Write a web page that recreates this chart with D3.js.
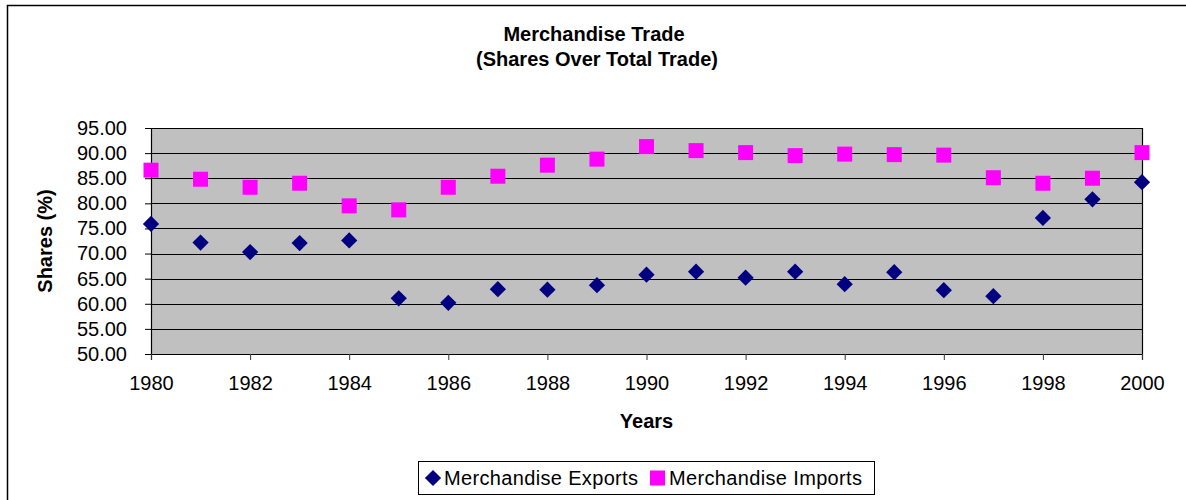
<!DOCTYPE html>
<html>
<head>
<meta charset="utf-8">
<script src="https://cdn.jsdelivr.net/npm/d3@7"></script>
<style>
  html, body { margin: 0; padding: 0; background: #fff; }
  svg { display: block; font-family: Arial, "Liberation Sans", sans-serif; }
</style>
</head>
<body>
<svg id="chart" width="1186" height="500"></svg>
<script>
const years = [1980,1981,1982,1983,1984,1985,1986,1987,1988,1989,1990,1991,1992,1993,1994,1995,1996,1997,1998,1999,2000];
const exportsShare = [75.9,72.2,70.3,72.1,72.6,61.1,60.2,62.9,62.8,63.7,65.8,66.4,65.2,66.4,63.9,66.3,62.7,61.5,77.1,80.8,84.2];
const importsShare = [86.6,84.8,83.2,84.0,79.5,78.7,83.2,85.4,87.6,88.8,91.3,90.5,90.1,89.5,89.8,89.7,89.6,85.1,84.0,85.0,90.1];
const yTicks = [50,55,60,65,70,75,80,85,90,95];
const xTicks = [1980,1982,1984,1986,1988,1990,1992,1994,1996,1998,2000];
const titleLines = ["Merchandise Trade", "(Shares Over Total Trade)"];
const seriesNames = ["Merchandise Exports", "Merchandise Imports"];

const svg = d3.select("#chart");
const pLeft = 151, pRight = 1142, pTop = 128, pBottom = 354;

// outer chart frame
svg.append("rect").attr("x", 7.5).attr("y", 5.5).attr("width", 1200).attr("height", 520)
  .attr("fill", "#fff").attr("stroke", "#000").attr("stroke-width", 1.5);

const x = d3.scaleLinear().domain([1980, 2000]).range([pLeft, pRight]);
const y = d3.scaleLinear().domain([50, 95]).range([pBottom, pTop]);

// plot background
svg.append("rect").attr("x", pLeft).attr("y", pTop).attr("width", pRight - pLeft).attr("height", pBottom - pTop)
  .attr("fill", "#c0c0c0");

// gridlines
svg.append("g").selectAll("line").data(yTicks.filter(d => d !== 50)).join("line")
  .attr("x1", pLeft).attr("x2", pRight)
  .attr("y1", d => Math.round(y(d)) + 0.5).attr("y2", d => Math.round(y(d)) + 0.5)
  .attr("stroke", "#000").attr("stroke-width", 1);

// plot border (right)
svg.append("line").attr("x1", pRight + 0.5).attr("x2", pRight + 0.5).attr("y1", pTop).attr("y2", pBottom)
  .attr("stroke", "#000").attr("stroke-width", 1.2);

// y axis
const yAxis = d3.axisLeft(y).tickValues(yTicks).tickFormat(d3.format(".2f")).tickSize(6).tickPadding(18);
const gy = svg.append("g").attr("transform", `translate(${pLeft},0)`).call(yAxis);
gy.select(".domain").attr("stroke", "#000").attr("stroke-width", 1.2);
gy.selectAll(".tick line").attr("stroke", "#000");
gy.selectAll(".tick text").attr("font-size", 20).attr("font-family", "Arial, 'Liberation Sans', sans-serif")
  .attr("fill", "#000");

// x axis
const xAxis = d3.axisBottom(x).tickValues(xTicks).tickFormat(d3.format("d")).tickSize(6).tickPadding(16);
const gx = svg.append("g").attr("transform", `translate(0,${pBottom})`).call(xAxis);
gx.select(".domain").attr("stroke", "#000").attr("stroke-width", 1.2);
gx.selectAll(".tick line").attr("stroke", "#333");
gx.selectAll(".tick text").attr("font-size", 20).attr("font-family", "Arial, 'Liberation Sans', sans-serif")
  .attr("fill", "#000");

// markers
const diamond = d3.symbol().type(d3.symbolSquare).size(132);
svg.append("g").selectAll("path").data(years.map((yr, i) => [yr, exportsShare[i]])).join("path")
  .attr("d", diamond)
  .attr("transform", d => `translate(${x(d[0])},${y(d[1])}) rotate(45)`)
  .attr("fill", "#000080");

svg.append("g").selectAll("rect").data(years.map((yr, i) => [yr, importsShare[i]])).join("rect")
  .attr("x", d => x(d[0]) - 7.5).attr("y", d => y(d[1]) - 7.5)
  .attr("width", 15).attr("height", 15)
  .attr("fill", "#ff00ff");

// title
svg.append("text").attr("x", 594).attr("y", 41).attr("text-anchor", "middle")
  .attr("font-size", 20).attr("font-weight", "bold").text(titleLines[0]);
svg.append("text").attr("x", 597).attr("y", 66).attr("text-anchor", "middle")
  .attr("font-size", 20).attr("font-weight", "bold").text(titleLines[1]);

// axis titles
svg.append("text").attr("x", (pLeft + pRight) / 2).attr("y", 428).attr("text-anchor", "middle")
  .attr("font-size", 20).attr("font-weight", "bold").text("Years");
svg.append("text").attr("transform", `translate(52,${(pTop + pBottom) / 2}) rotate(-90)`)
  .attr("text-anchor", "middle").attr("font-size", 20).attr("font-weight", "bold").text("Shares (%)");

// legend
const lg = svg.append("g");
lg.append("rect").attr("x", 418.5).attr("y", 461.5).attr("width", 456).attr("height", 33)
  .attr("fill", "#fff").attr("stroke", "#000").attr("stroke-width", 1);
lg.append("path").attr("d", diamond).attr("transform", "translate(433,478) rotate(45)").attr("fill", "#000080");
lg.append("text").attr("x", 444).attr("y", 485).attr("font-size", 20).attr("textLength", 194).text(seriesNames[0]);
lg.append("rect").attr("x", 650).attr("y", 470.5).attr("width", 15).attr("height", 15).attr("fill", "#ff00ff");
lg.append("text").attr("x", 669).attr("y", 485).attr("font-size", 20).attr("textLength", 193).text(seriesNames[1]);
</script>
</body>
</html>
